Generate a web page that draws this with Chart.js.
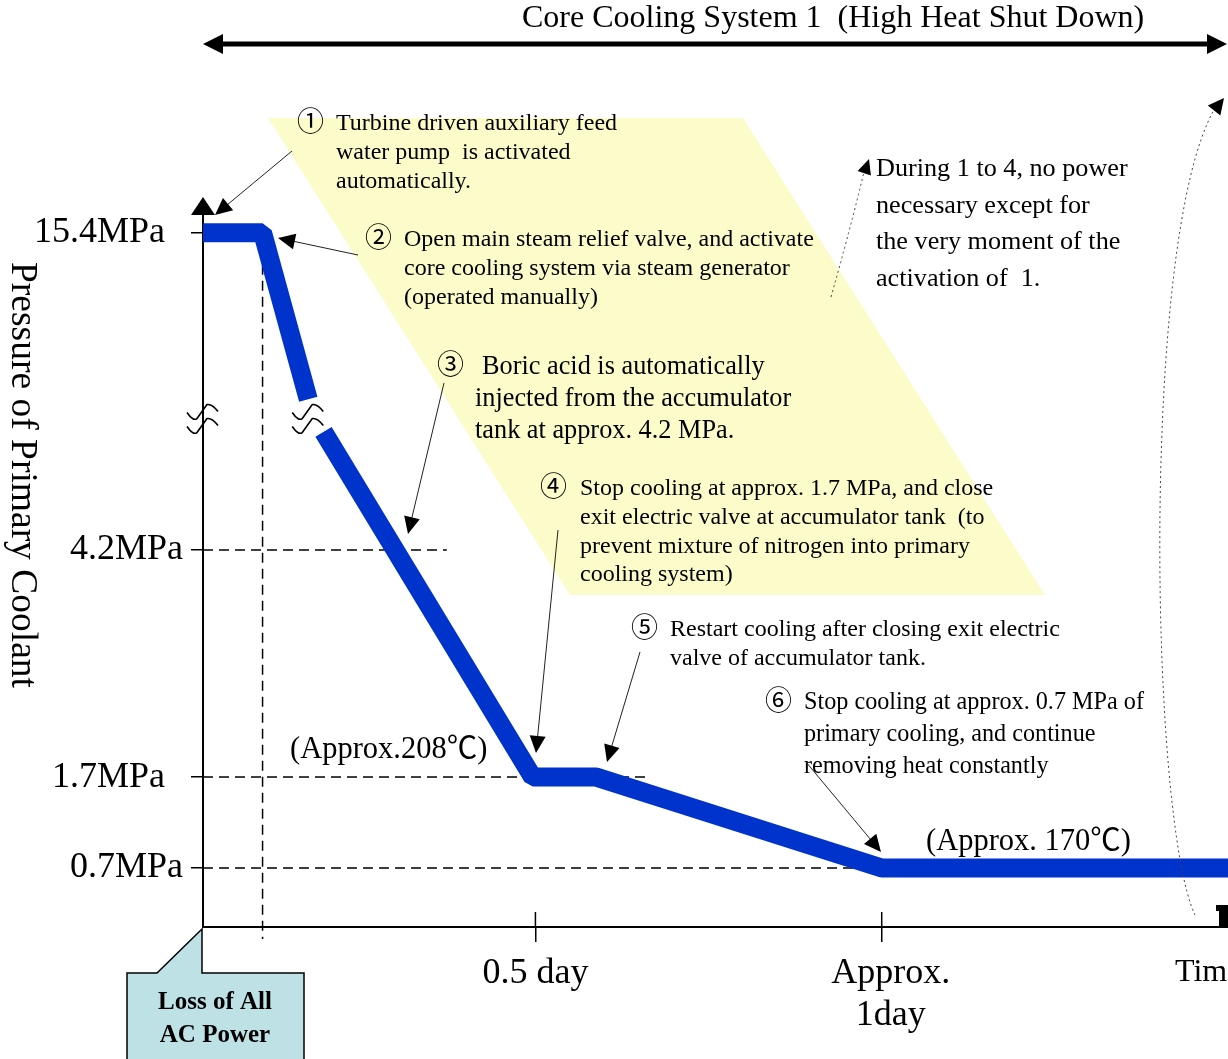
<!DOCTYPE html>
<html>
<head>
<meta charset="utf-8">
<title>Pressure of Primary Coolant after Loss of All AC Power</title>
<script src="https://cdn.jsdelivr.net/npm/chart.js@4.4.1/dist/chart.umd.min.js"></script>
<style>
  html, body { margin: 0; padding: 0; background: #fff; }
  canvas { display: block; }
</style>
</head>
<body>
<canvas id="c" width="1228" height="1059"></canvas>
<script>
// ---- data -------------------------------------------------------------
// Hours after the loss of AC power, and primary coolant pressure (MPa).
// The null entry is the break in the pressure axis.
const timeHours   = [0, 2.15, 3.8, 4.0, 4.35, 11.9, 14.2, 24.5, 37];
const pressureMPa = [15.4, 15.4, 12.5, null, 5.5, 1.7, 1.7, 0.7, 0.7];

const pressureTicks      = [0.7, 1.7, 4.2, 15.4];
const pressureTickLabels = ['0.7MPa', '1.7MPa  ', '4.2MPa', '15.4MPa  '];
const timeTicks          = [12, 24.5];
const timeTickLabels     = ['0.5 day', ['  Approx.', '  1day']];

// reference levels marked with dashed guides (MPa) and where each guide stops (hours)
const guideLevels   = [4.2, 1.7, 0.7];
const guideEndHours = [8.8, 16.1, 24.5];
const eventHour = 2.15;   // start of depressurisation

// ---- broken pressure axis --------------------------------------------
const BREAK_LOW = 5.6, BREAK_HIGH = 12.5, BREAK_SPAN = 0.26, UPPER_RATE = 0.632;
function toAxis(p) {
  if (p <= BREAK_LOW) return p;
  if (p <= BREAK_HIGH) return BREAK_LOW + (p - BREAK_LOW) / (BREAK_HIGH - BREAK_LOW) * BREAK_SPAN;
  return BREAK_LOW + BREAK_SPAN + (p - BREAK_HIGH) * UPPER_RATE;
}
function fromAxis(v) {
  if (v <= BREAK_LOW) return v;
  if (v <= BREAK_LOW + BREAK_SPAN) return BREAK_LOW + (v - BREAK_LOW) / BREAK_SPAN * (BREAK_HIGH - BREAK_LOW);
  return BREAK_HIGH + (v - BREAK_LOW - BREAK_SPAN) / UPPER_RATE;
}
class BrokenLinearScale extends Chart.LinearScale {
  getPixelForValue(value) {
    if (value === null || value === undefined || isNaN(value)) return NaN;
    const a = toAxis(this.min), b = toAxis(this.max);
    return this.getPixelForDecimal((toAxis(value) - a) / (b - a));
  }
  getValueForPixel(pixel) {
    const a = toAxis(this.min), b = toAxis(this.max);
    return fromAxis(a + this.getDecimalForPixel(pixel) * (b - a));
  }
}
BrokenLinearScale.id = 'brokenLinear';
Chart.register(BrokenLinearScale);

// ---- drawing helpers --------------------------------------------------
const SERIF = '"Liberation Serif", "Times New Roman", "Noto Sans CJK JP", serif';
const fontOf = (size, weight) => (weight ? weight + ' ' : '') + size + 'px ' + SERIF;

function txt(ctx, s, x, y, size, opt = {}) {
  ctx.save();
  ctx.font = fontOf(size, opt.weight);
  ctx.fillStyle = opt.color || '#000';
  ctx.textAlign = opt.align || 'left';
  ctx.textBaseline = 'middle';
  ctx.fillText(s, x, y);
  ctx.restore();
}
function head(ctx, fx, fy, tx, ty, len, half) {
  const d = Math.hypot(tx - fx, ty - fy), ux = (tx - fx) / d, uy = (ty - fy) / d;
  const bx = tx - ux * len, by = ty - uy * len;
  ctx.beginPath();
  ctx.moveTo(tx, ty);
  ctx.lineTo(bx - uy * half, by + ux * half);
  ctx.lineTo(bx + uy * half, by - ux * half);
  ctx.closePath();
  ctx.fill();
  return [bx, by];
}
function arrow(ctx, x1, y1, x2, y2) {
  ctx.save();
  ctx.strokeStyle = '#222'; ctx.fillStyle = '#000'; ctx.lineWidth = 1;
  const d = Math.hypot(x2 - x1, y2 - y1);
  const bx = x2 - (x2 - x1) / d * 16, by = y2 - (y2 - y1) / d * 16;
  ctx.beginPath(); ctx.moveTo(x1, y1); ctx.lineTo(bx, by); ctx.stroke();
  head(ctx, x1, y1, x2, y2, 17, 8);
  ctx.restore();
}
function breakMark(ctx, cx, cy) {
  ctx.save();
  ctx.strokeStyle = '#000'; ctx.lineWidth = 1.6; ctx.lineJoin = 'round';
  for (const o of [0, 14]) {
    ctx.beginPath();
    ctx.moveTo(cx - 16, cy - 3 + o);
    ctx.quadraticCurveTo(cx - 10, cy + 6 + o, cx - 6, cy + 3 + o);
    ctx.lineTo(cx + 4, cy - 11 + o);
    ctx.quadraticCurveTo(cx + 9, cy - 12 + o, cx + 15, cy - 4 + o);
    ctx.stroke();
  }
  ctx.restore();
}

// ---- background, guides and annotations -----------------------------
const decorations = {
  id: 'decorations',
  beforeDraw(chart) {
    const ctx = chart.ctx;
    ctx.save();
    ctx.fillStyle = '#fff';
    ctx.fillRect(0, 0, chart.width, chart.height);
    // shaded band behind notes 1-4
    ctx.fillStyle = '#FCFCCA';
    ctx.beginPath();
    ctx.moveTo(268, 118); ctx.lineTo(743, 118); ctx.lineTo(1045, 595); ctx.lineTo(570, 595);
    ctx.closePath(); ctx.fill();
    ctx.restore();
  },
  beforeDatasetsDraw(chart) {
    const ctx = chart.ctx, x = chart.scales.x, y = chart.scales.y, area = chart.chartArea;
    ctx.save();
    ctx.strokeStyle = '#000'; ctx.lineWidth = 1.5; ctx.setLineDash([10, 6]);
    guideLevels.forEach((lv, i) => {
      const py = y.getPixelForValue(lv);
      ctx.beginPath(); ctx.moveTo(area.left, py); ctx.lineTo(x.getPixelForValue(guideEndHours[i]), py); ctx.stroke();
    });
    const ex = x.getPixelForValue(eventHour);
    ctx.beginPath(); ctx.moveTo(ex, y.getPixelForValue(15.4)); ctx.lineTo(ex, area.bottom + 12); ctx.stroke();
    ctx.setLineDash([]);
    // time ticks cross the axis
    ctx.lineWidth = 1.5;
    timeTicks.forEach(t => {
      const px = x.getPixelForValue(t);
      ctx.beginPath(); ctx.moveTo(px, area.bottom - 15); ctx.lineTo(px, area.bottom); ctx.stroke();
    });
    ctx.restore();
  },
  afterDatasetsDraw(chart) {
    const ctx = chart.ctx, x = chart.scales.x, y = chart.scales.y, area = chart.chartArea;
    const cy = (y.getPixelForValue(12.5) + y.getPixelForValue(5.5)) / 2;
    breakMark(ctx, area.left, cy);
    breakMark(ctx, x.getPixelForValue(3.8), cy);
  },
  afterDraw(chart) {
    const ctx = chart.ctx, area = chart.chartArea;
    ctx.save();

    // pressure axis arrowhead
    ctx.fillStyle = '#000';
    ctx.beginPath();
    ctx.moveTo(area.left, area.top - 7); ctx.lineTo(area.left - 12, area.top + 11); ctx.lineTo(area.left + 12, area.top + 11);
    ctx.closePath(); ctx.fill();
    // time axis arrow end
    ctx.fillRect(1216, 905, 12, 6);
    ctx.fillRect(1219, 905, 9, 23);

    // axis titles
    ctx.save();
    ctx.translate(22, 475); ctx.rotate(Math.PI / 2);
    txt(ctx, 'Pressure of Primary Coolant', 0, 0, 37.5, { align: 'center' });
    ctx.restore();
    txt(ctx, 'Time', 1175, 973, 32);

    // top span arrow
    ctx.strokeStyle = '#000'; ctx.lineWidth = 5;
    ctx.beginPath(); ctx.moveTo(220, 44); ctx.lineTo(1210, 44); ctx.stroke();
    head(ctx, 1000, 44, 203, 44, 20, 10);
    head(ctx, 400, 44, 1227, 44, 20, 10);
    txt(ctx, 'Core Cooling System 1  (High Heat Shut Down)', 522, 19, 32);

    // numbered notes
    const S = 24, C = 27;
    txt(ctx, '①', 297, 124, C);
    ['Turbine driven auxiliary feed', 'water pump  is activated', 'automatically.']
      .forEach((s, i) => txt(ctx, s, 336, 124 + i * 29, S));
    txt(ctx, '②', 365, 240, C);
    ['Open main steam relief valve, and activate', 'core cooling system via steam generator', '(operated manually)']
      .forEach((s, i) => txt(ctx, s, 404, 240 + i * 29, S));
    txt(ctx, '③', 437, 367, C);
    txt(ctx, 'Boric acid is automatically', 482, 367, 26.3);
    txt(ctx, 'injected from the accumulator', 475, 399, 26.3);
    txt(ctx, 'tank at approx. 4.2 MPa.', 475, 431, 26.3);
    txt(ctx, '④', 540, 489, C);
    ['Stop cooling at approx. 1.7 MPa, and close', 'exit electric valve at accumulator tank  (to',
     'prevent mixture of nitrogen into primary', 'cooling system)']
      .forEach((s, i) => txt(ctx, s, 580, 489 + i * 28.7, S));
    txt(ctx, '⑤', 631, 630, C);
    ['Restart cooling after closing exit electric', 'valve of accumulator tank.']
      .forEach((s, i) => txt(ctx, s, 670, 630 + i * 29, S));
    txt(ctx, '⑥', 765, 703, C);
    ['Stop cooling at approx. 0.7 MPa of', 'primary cooling, and continue', 'removing heat constantly']
      .forEach((s, i) => txt(ctx, s, 804, 703 + i * 32, 24.2));
    ['During 1 to 4, no power', 'necessary except for', 'the very moment of the', 'activation of  1.']
      .forEach((s, i) => txt(ctx, s, 876, 169 + i * 36.7, 26.2));

    txt(ctx, '(Approx.208℃)', 290, 750, 30.5);
    txt(ctx, '(Approx. 170℃)', 926, 842, 30.5);

    // note arrows
    arrow(ctx, 292, 151, 215, 215);
    arrow(ctx, 358, 255, 278, 238);
    arrow(ctx, 444, 383, 408, 534);
    arrow(ctx, 558, 530, 536, 753);
    arrow(ctx, 640, 652, 607, 762);
    arrow(ctx, 806, 762, 881, 852);

    // dotted pointers
    ctx.strokeStyle = '#444'; ctx.lineWidth = 1; ctx.setLineDash([2, 3]);
    ctx.beginPath(); ctx.moveTo(831, 297); ctx.quadraticCurveTo(850, 230, 864, 172); ctx.stroke();
    ctx.beginPath(); ctx.moveTo(1195, 915); ctx.bezierCurveTo(1150, 820, 1140, 240, 1214, 110); ctx.stroke();
    ctx.setLineDash([]);
    ctx.fillStyle = '#000';
    head(ctx, 862, 180, 869, 159, 15, 7);
    head(ctx, 1205, 122, 1224, 98, 16, 8);

    // loss-of-power callout
    const ox = area.left - 1, oy = area.bottom + 2;
    ctx.fillStyle = '#BEE1E5'; ctx.strokeStyle = '#000'; ctx.lineWidth = 1.5;
    ctx.beginPath();
    ctx.moveTo(127, 1064); ctx.lineTo(127, 973); ctx.lineTo(157, 973); ctx.lineTo(ox, oy);
    ctx.lineTo(ox, 973); ctx.lineTo(304, 973); ctx.lineTo(304, 1064); ctx.closePath();
    ctx.fill(); ctx.stroke();
    txt(ctx, 'Loss of All', 215, 1003, 25, { align: 'center', weight: 'bold' });
    txt(ctx, 'AC Power', 215, 1036, 25, { align: 'center', weight: 'bold' });

    ctx.restore();
  }
};

// ---- chart --------------------------------------------------------------
Chart.defaults.font.family = SERIF;
new Chart(document.getElementById('c'), {
  type: 'line',
  data: {
    datasets: [{
      data: timeHours.map((t, i) => ({ x: t, y: pressureMPa[i] })),
      borderColor: '#0033CC',
      borderWidth: 19,
      borderCapStyle: 'butt',
      borderJoinStyle: 'bevel',
      pointRadius: 0,
      spanGaps: false,
      tension: 0,
      fill: false
    }]
  },
  options: {
    responsive: false,
    animation: false,
    events: [],
    layout: { padding: { top: 204, left: 0, right: 0, bottom: 0 } },
    plugins: { legend: { display: false }, tooltip: { enabled: false } },
    scales: {
      x: {
        type: 'linear', min: 0, max: 37,
        afterFit: s => { s.height = 132; },
        afterBuildTicks: s => { s.ticks = timeTicks.map(v => ({ value: v })); },
        ticks: {
          callback: (v, i) => timeTickLabels[i],
          color: '#000', padding: 10, maxRotation: 0, autoSkip: false,
          font: { family: SERIF, size: 36, lineHeight: 1.17 }
        },
        grid: { drawOnChartArea: false, drawTicks: true, tickLength: 15, color: '#000', lineWidth: 1.5 },
        border: { display: true, color: '#000', width: 2 }
      },
      y: {
        type: 'brokenLinear', min: 0.05, max: 15.9, bounds: 'data',
        afterFit: s => { s.width = 203; },
        afterBuildTicks: s => { s.ticks = pressureTicks.map(v => ({ value: v })); },
        ticks: {
          callback: (v, i) => pressureTickLabels[i],
          color: '#000', padding: 8, autoSkip: false,
          font: { family: SERIF, size: 36 }
        },
        grid: { drawOnChartArea: false, drawTicks: true, tickLength: 12, color: '#000', lineWidth: 1.5 },
        border: { display: true, color: '#000', width: 2 }
      }
    }
  },
  plugins: [decorations]
});
</script>
</body>
</html>
